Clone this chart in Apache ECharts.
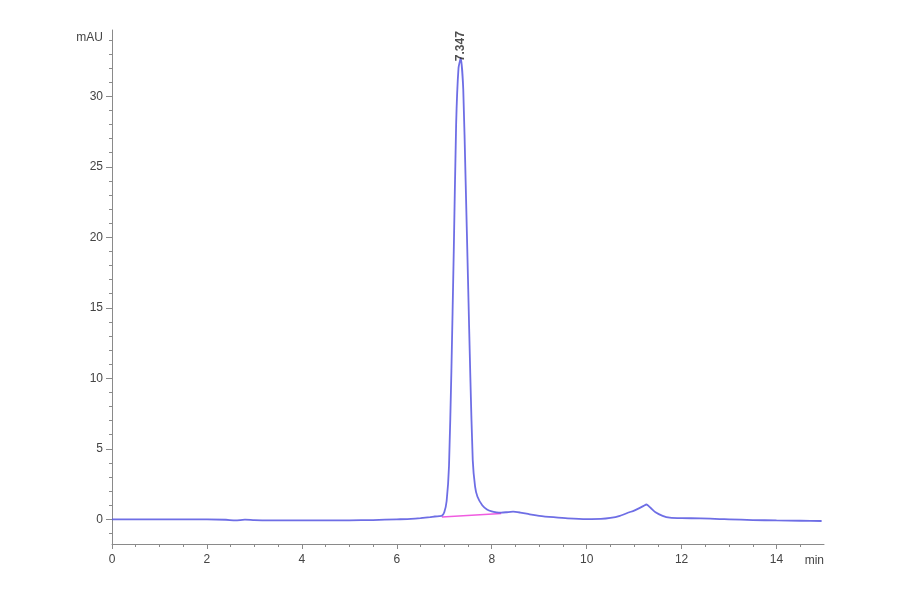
<!DOCTYPE html>
<html>
<head>
<meta charset="utf-8">
<script src="https://cdn.jsdelivr.net/npm/echarts@6/dist/echarts.min.js"></script>
<style>
html,body{margin:0;padding:0;background:#fff;}
#chart{width:900px;height:594px;}
</style>
</head>
<body>
<div id="chart"></div>
<script>
// Chromatogram trace (time in min, signal in mAU)
const traceTime = [0, 1, 2, 2.4, 2.6, 2.8, 3.0, 3.5, 4, 5, 5.5, 6, 6.3, 6.5, 6.7, 6.8, 6.9,
  6.95, 7.0, 7.05, 7.1, 7.15, 7.2, 7.25, 7.3, 7.347, 7.4, 7.45, 7.5, 7.55, 7.6, 7.65, 7.7, 7.8, 7.9, 8.0,
  8.1, 8.2, 8.3, 8.45, 8.6, 8.8, 9.0, 9.3, 9.6, 10.0, 10.3, 10.5, 10.7, 10.9, 11.0, 11.1, 11.2, 11.26,
  11.35, 11.45, 11.6, 11.75, 12.0, 12.4, 12.8, 13.0, 13.5, 14.0, 14.5, 14.95];
const traceSignal = [0.0, 0.0, 0.0, -0.03, -0.08, -0.02, -0.05, -0.08, -0.08, -0.07, -0.05, 0.0, 0.03, 0.08, 0.15, 0.2, 0.22,
  0.25, 0.5, 1.3, 3.8, 10.5, 19, 28, 32, 32.7, 30.5, 24, 17, 10, 4.2, 2.3, 1.6, 1.0, 0.7, 0.56,
  0.5, 0.48, 0.5, 0.55, 0.48, 0.35, 0.25, 0.15, 0.07, 0.02, 0.03, 0.1, 0.25, 0.5, 0.62, 0.78, 0.95, 1.05,
  0.8, 0.5, 0.25, 0.12, 0.08, 0.07, 0.02, 0.0, -0.05, -0.08, -0.1, -0.12];

// Integration baseline of the main peak
const baselineTime = [6.95, 8.2];
const baselineSignal = [0.17, 0.42];

// Peak annotation
const peakTimes = [7.347];
const peakHeights = [32.7];
const peakLabels = ['7.347'];

// Axis ticks
const xMajorTicks = [0, 2, 4, 6, 8, 10, 12, 14];
const xMinorTicks = [0,0.5,1,1.5,2,2.5,3,3.5,4,4.5,5,5.5,6,6.5,7,7.5,8,8.5,9,9.5,10,10.5,11,11.5,12,12.5,13,13.5,14,14.5];
const yMajorTicks = [0, 5, 10, 15, 20, 25, 30];
const yMinorTicks = [-1,0,1,2,3,4,5,6,7,8,9,10,11,12,13,14,15,16,17,18,19,20,21,22,23,24,25,26,27,28,29,30,31,32,33,34];

const X_MIN = 0, X_MAX = 15, Y_MIN = -1.75, Y_MAX = 34.7;

const zip = (a, b) => a.map((v, i) => [v, b[i]]);

const axisColor = '#8a8a8a';
const labelStyle = {color: '#444', fontSize: 12, fontFamily: 'Liberation Sans, Arial, sans-serif'};

const chart = echarts.init(document.getElementById('chart'), null, {renderer: 'canvas'});
chart.setOption({
  animation: false,
  backgroundColor: '#fff',
  grid: {left: 112, right: 76, top: 30, bottom: 50},
  xAxis: [{
    type: 'value', min: X_MIN, max: X_MAX,
    name: 'min', nameLocation: 'end', nameGap: 0,
    nameTextStyle: Object.assign({}, labelStyle, {align: 'right', verticalAlign: 'top', padding: [11, 0, 0, 0]}),
    axisLine: {show: true, onZero: false, lineStyle: {color: axisColor, width: 1}},
    axisTick: {show: true, inside: false, length: 5, customValues: xMajorTicks, lineStyle: {color: axisColor}},
    axisLabel: Object.assign({}, labelStyle, {customValues: xMajorTicks, margin: 10}),
    splitLine: {show: false}
  }, {
    type: 'value', min: X_MIN, max: X_MAX, position: 'bottom',
    axisLine: {show: false, onZero: false},
    axisTick: {show: true, inside: false, length: 3, customValues: xMinorTicks, lineStyle: {color: axisColor}},
    axisLabel: {show: false},
    splitLine: {show: false}
  }],
  yAxis: [{
    type: 'value', min: Y_MIN, max: Y_MAX,
    name: 'mAU', nameLocation: 'end', nameGap: -2,
    nameTextStyle: Object.assign({}, labelStyle, {align: 'right', verticalAlign: 'top', padding: [0, 9, 0, 0]}),
    axisLine: {show: true, onZero: false, lineStyle: {color: axisColor, width: 1}},
    axisTick: {show: true, inside: false, length: 6, customValues: yMajorTicks, lineStyle: {color: axisColor}},
    axisLabel: Object.assign({}, labelStyle, {customValues: yMajorTicks, margin: 9}),
    splitLine: {show: false}
  }, {
    type: 'value', min: Y_MIN, max: Y_MAX, position: 'left',
    axisLine: {show: false, onZero: false},
    axisTick: {show: true, inside: false, length: 3, customValues: yMinorTicks, lineStyle: {color: axisColor}},
    axisLabel: {show: false},
    splitLine: {show: false}
  }],
  series: [{
    name: 'baseline', type: 'line', xAxisIndex: 0, yAxisIndex: 0,
    data: zip(baselineTime, baselineSignal),
    symbol: 'none', lineStyle: {color: '#f05ce0', width: 1.5}, z: 2
  }, {
    name: 'signal', type: 'line', xAxisIndex: 0, yAxisIndex: 0,
    data: zip(traceTime, traceSignal),
    symbol: 'none', smooth: 0.2,
    lineStyle: {color: 'rgba(85,85,225,0.85)', width: 1.8}, z: 3
  }, {
    name: 'peaks', type: 'scatter', xAxisIndex: 0, yAxisIndex: 0,
    data: peakTimes.map((t, i) => ({value: [t, peakHeights[i]], name: peakLabels[i]})),
    symbolSize: 0, silent: true, z: 4,
    label: {
      show: true, position: 'top', distance: -3, rotate: 90,
      align: 'left', verticalAlign: 'middle',
      formatter: p => p.name,
      color: '#222', fontSize: 12, fontWeight: 'bold',
      fontFamily: 'Liberation Sans, Arial, sans-serif'
    }
  }]
});
</script>
</body>
</html>
